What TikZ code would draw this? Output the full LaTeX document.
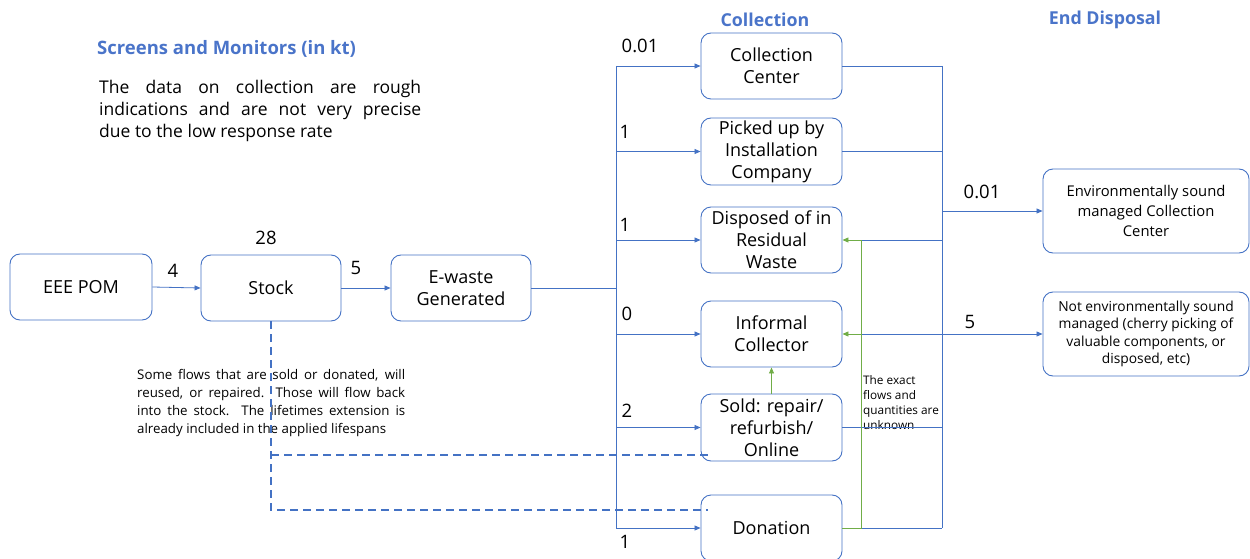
\documentclass[tikz,border=0pt]{standalone}
\usepackage{fontspec}
\setmainfont{Open Sans}
\usetikzlibrary{arrows.meta}
\hyphenpenalty=10000
\exhyphenpenalty=10000
\definecolor{fblue}{RGB}{68,114,196}
\definecolor{hblue}{RGB}{74,116,201}
\definecolor{fgreen}{RGB}{112,173,71}
\tikzset{
  box/.style={draw=fblue, line width=0.9pt, rounded corners=10pt, align=center, inner sep=2pt,
    font=\fontsize{18}{22}\selectfont},
  flow/.style={draw=fblue, line width=0.8pt},
  arr/.style={flow, -{Triangle[length=6pt,width=5pt]}},
  garr/.style={draw=fgreen, line width=0.8pt, -{Triangle[length=6pt,width=5pt]}},
  gflow/.style={draw=fgreen, line width=0.8pt},
  dline/.style={draw=fblue, line width=1.4pt, dash pattern=on 8pt off 5pt},
  num/.style={font=\fontsize{18.5}{20}\selectfont, inner sep=0pt},
  head/.style={font=\fontsize{17.8}{20}\selectfont\bfseries, text=hblue, inner sep=0pt}
}
\begin{document}
\begin{tikzpicture}[x=1pt,y=-1pt]
\useasboundingbox (0,0) rectangle (1250,559);
% headers
\node[head, anchor=west, font=\fontsize{18.5}{20}\selectfont\bfseries] (title) at (97,49) {Screens and Monitors (in kt)};
\node[head] (hcol) at (765,20) {Collection};
\node[head] (hend) at (1105,20) {End Disposal};
\node[anchor=north west, text width=322pt, align=justify, inner sep=0pt,
  font=\fontsize{17.5}{22}\selectfont] (note) at (99,80)
  {The data on collection are rough indications and are not very precise due to the low response rate};
% main boxes
\node[box, minimum width=142pt, minimum height=66pt] (pom) at (81,287) {EEE POM};
\node[box, minimum width=140pt, minimum height=66pt] (stock) at (271,288) {Stock};
\node[box, minimum width=140pt, minimum height=66pt] (ew) at (461,288) {E-waste\\Generated};
% collection boxes
\node[box, minimum width=141pt, minimum height=66pt] (cc) at (771.5,66) {Collection\\Center};
\node[box, minimum width=141pt, minimum height=67pt] (pu) at (771.5,151.5) {Picked up by\\Installation\\Company};
\node[box, minimum width=141pt, minimum height=66pt] (dr) at (771.5,240) {Disposed of in\\Residual\\Waste};
\node[box, minimum width=141pt, minimum height=66pt] (ic) at (771.5,334) {Informal\\Collector};
\node[box, minimum width=141pt, minimum height=67pt] (sold) at (771.5,427.5) {Sold: repair/\\refurbish/\\Online};
\node[box, minimum width=141pt, minimum height=66pt] (don) at (771.5,528) {Donation};
% end disposal boxes
\node[box, minimum width=206pt, minimum height=84pt, font=\fontsize{14.8}{20}\selectfont] (esm) at (1146,211) {Environmentally sound\\managed Collection\\Center};
\node[box, minimum width=206pt, minimum height=84pt, font=\fontsize{13.8}{17.5}\selectfont] (nesm) at (1146,334) {Not environmentally sound\\managed (cherry picking of\\valuable components, or\\disposed, etc)};
% numbers
\node[num] (n28) at (266,238) {28};
\node[num] (n4) at (173,271) {4};
\node[num] (n5) at (356,268) {5};
\node[num] (c1) at (640,46) {0.01};
\node[num] (c2) at (625,132) {1};
\node[num] (c3) at (625,225) {1};
\node[num] (c4) at (627,314) {0};
\node[num] (c5) at (627,411) {2};
\node[num] (c6) at (625,542) {1};
\node[num] (e1) at (982,192) {0.01};
\node[num] (e2) at (970,322) {5};
% side notes
\node[anchor=north west, text width=268pt, align=justify, inner sep=0pt,
  font=\fontsize{13.3}{18}\selectfont] (flownote) at (137,369)
  {Some flows that are sold or donated, will reused, or repaired. Those will flow back into the stock. The lifetimes extension is already included in the applied lifespans};
\node[anchor=north west, align=left, inner sep=0pt,
  font=\fontsize{11.8}{15}\selectfont] (exact) at (863,375)
  {The exact\\flows and\\quantities are\\unknown};
% coordinates
\coordinate (lt) at (616,288);
\coordinate (rt) at (942,288);
\coordinate (gt) at (861,288);
% flows left
\draw[arr] (pom.east) -- (stock.west);
\draw[arr] (stock.east) -- (ew.west);
\draw[flow] (ew.east) -- (lt);
\draw[flow] (cc.west -| lt) -- (don.west -| lt);
\foreach \b in {cc,pu,dr,ic,sold,don} \draw[arr] (\b.west -| lt) -- (\b.west);
% flows right
\draw[flow] (cc.east -| rt) -- (don.east -| rt);
\draw[flow] (cc.east) -- (cc.east -| rt);
\draw[flow] (pu.east) -- (pu.east -| rt);
\draw[flow] (sold.east) -- (sold.east -| rt);
\draw[flow] (dr.east -| gt) -- (dr.east -| rt);
\draw[flow] (don.east -| gt) -- (don.east -| rt);
\draw[flow] (ic.east -| gt) -- (ic.east -| rt);
\draw[arr] (esm.west -| rt) -- (esm.west);
\draw[arr] (nesm.west -| rt) -- (nesm.west);
% green
\draw[gflow] (don.east) -- (don.east -| gt) -- (dr.east -| gt);
\draw[garr] (dr.east -| gt) -- (dr.east);
\draw[garr] (ic.east -| gt) -- (ic.east);
\draw[garr] (sold.north) -- (ic.south);
% dashed
\coordinate (d1) at (271,455);
\coordinate (d2) at (271,510);
\coordinate (d3) at (708,455);
\coordinate (d4) at (708,510);
\draw[dline] (stock.south) -- (d2) -- (d4);
\draw[dline] (d1) -- (d3);
\end{tikzpicture}
\end{document}
